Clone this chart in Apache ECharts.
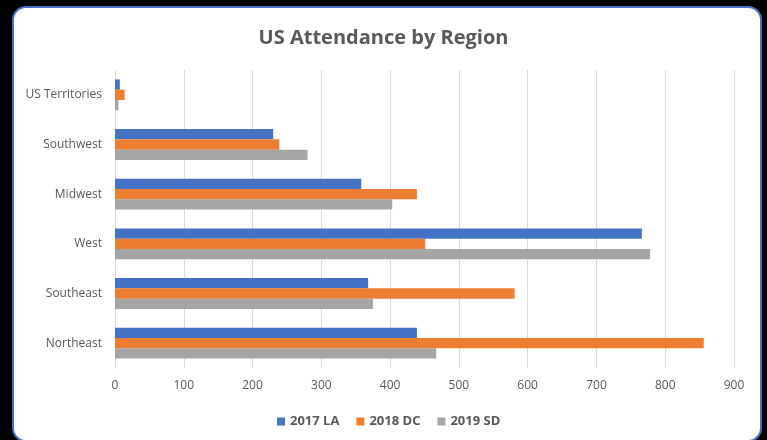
<!DOCTYPE html>
<html>
<head>
<meta charset="utf-8">
<script src="https://cdn.jsdelivr.net/npm/echarts@6/dist/echarts.min.js"></script>
<style>
    html, body { margin: 0; padding: 0; background: #000; }
    #frame {
        position: absolute; left: 12px; top: 6px; width: 750px; height: 436px;
        box-sizing: border-box; border: 2px solid #4472C4; border-radius: 14px;
        background: #fff;
    }
    #chart { position: absolute; left: 0; top: 0; width: 767px; height: 440px; }
</style>
</head>
<body>
<div id="frame"></div>
<div id="chart"></div>
<script>
    // regions, bottom to top
    var regions = ['Northeast', 'Southeast', 'West', 'Midwest', 'Southwest', 'US Territories'];
    var la2017 = [439, 368, 766, 358, 230, 7];
    var dc2018 = [856, 581, 451, 439, 239, 14];
    var sd2019 = [467, 375, 778, 403, 280, 5];
    var xTicks = [0, 100, 200, 300, 400, 500, 600, 700, 800, 900];

    var myChart = echarts.init(document.getElementById('chart'));
    var font = '"Open Sans", "Liberation Sans", sans-serif';

    var option = {
        animation: false,
        textStyle: { fontFamily: font },
        title: {
            text: 'US Attendance by Region',
            left: 'center',
            top: 23,
            textStyle: { color: '#595959', fontSize: 20, fontWeight: 'bold', fontFamily: font }
        },
        legend: {
            data: ['2017 LA', '2018 DC', '2019 SD'],
            left: 272,
            top: 410,
            icon: 'rect',
            itemWidth: 8,
            itemHeight: 8,
            itemGap: 17,
            textStyle: { color: '#595959', fontSize: 13, fontWeight: 'bold', fontFamily: font }
        },
        grid: {
            left: 115,
            right: 33,
            top: 70,
            bottom: 72
        },
        xAxis: {
            type: 'value',
            min: xTicks[0],
            max: xTicks[xTicks.length - 1],
            interval: 100,
            axisLine: { show: false },
            axisTick: { show: false },
            axisLabel: { color: '#595959', fontSize: 12, margin: 12 },
            splitLine: { lineStyle: { color: '#d9d9d9', width: 1 } }
        },
        yAxis: {
            type: 'category',
            data: regions,
            axisLine: { show: true, lineStyle: { color: '#d9d9d9' } },
            axisTick: { show: false },
            axisLabel: { color: '#595959', fontSize: 12, margin: 13 }
        },
        series: [
            {
                name: '2017 LA',
                type: 'bar',
                data: la2017,
                barGap: 0,
                barCategoryGap: '38%',
                itemStyle: { color: '#4472C4' }
            },
            {
                name: '2018 DC',
                type: 'bar',
                data: dc2018,
                barGap: 0,
                barCategoryGap: '38%',
                itemStyle: { color: '#ED7D31' }
            },
            {
                name: '2019 SD',
                type: 'bar',
                data: sd2019,
                barGap: 0,
                barCategoryGap: '38%',
                itemStyle: { color: '#A5A5A5' }
            }
        ]
    };
    myChart.setOption(option);
</script>
</body>
</html>
